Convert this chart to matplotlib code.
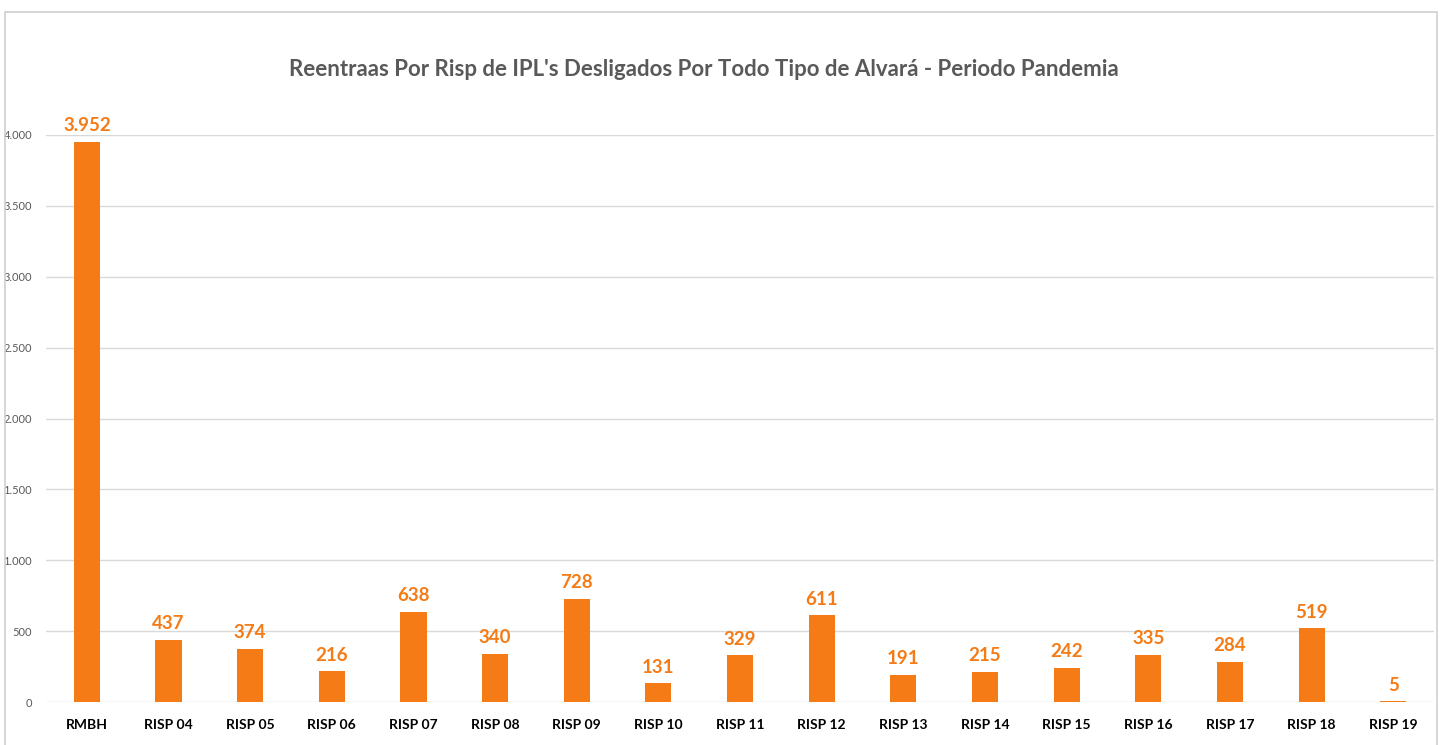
import matplotlib
matplotlib.use('Agg')
from matplotlib import pyplot as plt
from matplotlib.patches import Rectangle
from matplotlib.ticker import FuncFormatter

categorias = ['RMBH', 'RISP 04', 'RISP 05', 'RISP 06', 'RISP 07', 'RISP 08', 'RISP 09',
              'RISP 10', 'RISP 11', 'RISP 12', 'RISP 13', 'RISP 14', 'RISP 15', 'RISP 16',
              'RISP 17', 'RISP 18', 'RISP 19']
reentradas = [3952, 437, 374, 216, 638, 340, 728, 131, 329, 611, 191, 215, 242, 335, 284, 519, 5]
titulo = "Reentraas Por Risp de IPL's Desligados Por Todo Tipo de Alvará - Periodo Pandemia"

plt.rcParams['font.family'] = ['Lato', 'DejaVu Sans']
laranja = '#f47b16'

fig = plt.figure(figsize=(14.43, 7.45), dpi=100)
fig.patches.append(Rectangle((5/1443, -0.01), 1432/1443, 0.9933, transform=fig.transFigure,
                             fill=False, edgecolor='#d0d0d0', linewidth=1.2))
ax = fig.add_axes([0.0319, 0.0577, 0.9619, 0.7611])

x = range(len(categorias))
barras = ax.bar(x, reentradas, width=0.32, color=laranja, zorder=3)
for i, v in enumerate(reentradas):
    txt = f'{v:,}'.replace(',', '.')
    ax.text(i, v + 55, txt, ha='center', va='bottom', color=laranja,
            fontsize=13.5, fontweight='bold', clip_on=False)

ax.set_xlim(-0.5, len(categorias) - 0.5)
ax.set_ylim(0, 4000)
ax.set_yticks(range(0, 4001, 500))
ax.yaxis.set_major_formatter(FuncFormatter(lambda v, p: f'{int(v):,}'.replace(',', '.')))
ax.set_xticks(list(x))
ax.set_xticklabels(categorias, fontsize=10, fontweight='bold', color='black')
ax.tick_params(axis='y', labelsize=8, colors='#595959', length=0, pad=10)
ax.tick_params(axis='x', length=0, pad=12)
ax.grid(axis='y', color='#d9d9d9', linewidth=1, zorder=0)
for s in ax.spines.values():
    s.set_visible(False)

fig.text(0.488, 0.907, titulo, ha='center', va='center', fontsize=16,
         fontweight='bold', color='#595959')

plt.savefig('out.png', dpi=100)
